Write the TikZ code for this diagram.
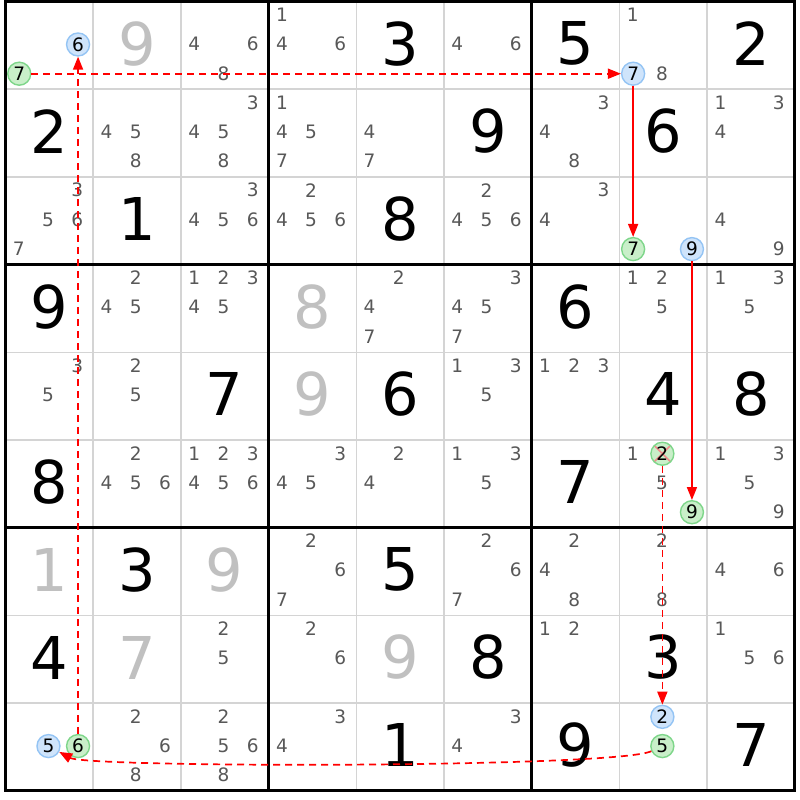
\documentclass[tikz,border=0pt]{standalone}
\usepackage{fontspec}
\setmainfont{DejaVu Sans}
\usetikzlibrary{arrows.meta}
\definecolor{candc}{RGB}{88,88,88}
\definecolor{placedc}{RGB}{192,192,192}
\definecolor{thinc}{RGB}{212,212,212}
\definecolor{bfill}{RGB}{207,228,251}
\definecolor{bline}{RGB}{148,196,244}
\definecolor{gfill}{RGB}{201,239,201}
\definecolor{gline}{RGB}{126,214,138}
\definecolor{xmarkc}{RGB}{240,140,140}
\definecolor{linkc}{RGB}{255,0,0}
\tikzset{
  thingrid/.style={draw=thinc, line width=1.5pt},
  thickgrid/.style={draw=black, line width=3pt},
  cand/.style={inner sep=0pt, text=candc, font=\fontsize{18.5}{18.5}\selectfont},
  given/.style={inner sep=0pt, text=black, font=\fontsize{59}{59}\selectfont},
  placed/.style={inner sep=0pt, text=placedc, font=\fontsize{59}{59}\selectfont},
  circbase/.style={circle, minimum size=23pt, inner sep=0pt, line width=1.4pt, text=black, font=\fontsize{18.5}{18.5}\selectfont},
  bcirc/.style={circbase, fill=bfill, draw=bline},
  gcirc/.style={circbase, fill=gfill, draw=gline},
  link/.style={draw=linkc, fill=none, line width=1.7pt, -{Triangle[length=13pt,width=10pt,fill=linkc]}},
  weaklink/.style={link, dash pattern=on 7pt off 5pt},
}
\newcommand\cands[3]{%
  \foreach \d in {#3}{%
    \pgfmathtruncatemacro\kk{mod(\d-1,3)}%
    \pgfmathtruncatemacro\jj{div(\d-1,3)}%
    \node[cand] (c#1#2\d) at ({#2-1+(\kk+0.5)/3-0.015},{#1-1+(\jj+0.5)/3-0.015}) {\d};
  }}
\newcommand\givenat[3]{\node[given] (g#1#2) at ({#2-0.5},{#1-0.52}) {#3};}
\newcommand\placedat[3]{\node[placed] (p#1#2) at ({#2-0.5},{#1-0.52}) {#3};}
\newcommand\circat[6]{% style, name, row, col, digit, extra
  \pgfmathtruncatemacro\kk{mod(#5-1,3)}%
  \pgfmathtruncatemacro\jj{div(#5-1,3)}%
  \pgfmathtruncatemacro\kt{\kk==2 ? 1 : 0}%
  \node[#1,#6] (#2) at ({#4-1+(\kk+0.5)/3-0.01+0.004*\kt},{#3-1+(\jj+0.5)/3-0.01}) {#5};}
\begin{document}
\begin{tikzpicture}[x=87.7pt,y=-87.7pt]
\useasboundingbox (-0.0627,-0.0171) rectangle (9.059,9.105);
\fill[white] (-0.0627,-0.0171) rectangle (9.059,9.105);
% grid
\foreach \i in {1,2,4,5,7,8}{
  \draw[thingrid] (\i,0) -- (\i,9);
  \draw[thingrid] (0,\i) -- (9,\i);
}
\foreach \i in {0,3,6,9}{
  \draw[thickgrid] (\i,-0.017) -- (\i,9.017);
  \draw[thickgrid] (-0.017,\i) -- (9.017,\i);
}
% row 1
\placedat{1}{2}{9}
\cands{1}{3}{4,6,8}
\cands{1}{4}{1,4,6}
\givenat{1}{5}{3}
\cands{1}{6}{4,6}
\givenat{1}{7}{5}
\cands{1}{8}{1,8}
\givenat{1}{9}{2}
% row 2
\givenat{2}{1}{2}
\cands{2}{2}{4,5,8}
\cands{2}{3}{3,4,5,8}
\cands{2}{4}{1,4,5,7}
\cands{2}{5}{4,7}
\givenat{2}{6}{9}
\cands{2}{7}{3,4,8}
\givenat{2}{8}{6}
\cands{2}{9}{1,3,4}
% row 3
\cands{3}{1}{3,5,6,7}
\givenat{3}{2}{1}
\cands{3}{3}{3,4,5,6}
\cands{3}{4}{2,4,5,6}
\givenat{3}{5}{8}
\cands{3}{6}{2,4,5,6}
\cands{3}{7}{3,4}
\cands{3}{9}{4,9}
% row 4
\givenat{4}{1}{9}
\cands{4}{2}{2,4,5}
\cands{4}{3}{1,2,3,4,5}
\placedat{4}{4}{8}
\cands{4}{5}{2,4,7}
\cands{4}{6}{3,4,5,7}
\givenat{4}{7}{6}
\cands{4}{8}{1,2,5}
\cands{4}{9}{1,3,5}
% row 5
\cands{5}{1}{3,5}
\cands{5}{2}{2,5}
\givenat{5}{3}{7}
\placedat{5}{4}{9}
\givenat{5}{5}{6}
\cands{5}{6}{1,3,5}
\cands{5}{7}{1,2,3}
\givenat{5}{8}{4}
\givenat{5}{9}{8}
% row 6
\givenat{6}{1}{8}
\cands{6}{2}{2,4,5,6}
\cands{6}{3}{1,2,3,4,5,6}
\cands{6}{4}{3,4,5}
\cands{6}{5}{2,4}
\cands{6}{6}{1,3,5}
\givenat{6}{7}{7}
\cands{6}{8}{1,5}
\cands{6}{9}{1,3,5,9}
% row 7
\placedat{7}{1}{1}
\givenat{7}{2}{3}
\placedat{7}{3}{9}
\cands{7}{4}{2,6,7}
\givenat{7}{5}{5}
\cands{7}{6}{2,6,7}
\cands{7}{7}{2,4,8}
\cands{7}{8}{2,8}
\cands{7}{9}{4,6}
% row 8
\givenat{8}{1}{4}
\placedat{8}{2}{7}
\cands{8}{3}{2,5}
\cands{8}{4}{2,6}
\placedat{8}{5}{9}
\givenat{8}{6}{8}
\cands{8}{7}{1,2}
\givenat{8}{8}{3}
\cands{8}{9}{1,5,6}
% row 9
\cands{9}{2}{2,6,8}
\cands{9}{3}{2,5,6,8}
\cands{9}{4}{3,4}
\givenat{9}{5}{1}
\cands{9}{6}{3,4}
\givenat{9}{7}{9}
\givenat{9}{9}{7}
% links
\coordinate (k1) at (6.95,8.74);
\coordinate (k2) at (0.95,8.74);
\circat{gcirc}{a7}{1}{1}{7}{}
\circat{bcirc}{a6}{1}{1}{6}{}
\circat{bcirc}{b7}{1}{8}{7}{}
\circat{gcirc}{c7}{3}{8}{7}{}
\circat{bcirc}{c9}{3}{8}{9}{}
\circat{gcirc}{d9}{6}{8}{9}{}
\circat{gcirc}{d2}{6}{8}{2}{path picture={\draw[xmarkc,line width=1.6pt] (path picture bounding box.north west) -- (path picture bounding box.south east) (path picture bounding box.north east) -- (path picture bounding box.south west);}}
\circat{bcirc}{e2}{9}{8}{2}{}
\circat{gcirc}{e5}{9}{8}{5}{}
\circat{bcirc}{f5}{9}{1}{5}{}
\circat{gcirc}{f6}{9}{1}{6}{}
\draw[weaklink] (a7) -- (b7);
\draw[link] (b7) -- (c7);
\draw[link] (c9) -- (d9);
\draw[weaklink] (d2) -- (e2);
\draw[weaklink] (e5) .. controls (k1) and (k2) .. (f5);
\draw[weaklink] (f6) -- (a6);
\end{tikzpicture}
\end{document}
